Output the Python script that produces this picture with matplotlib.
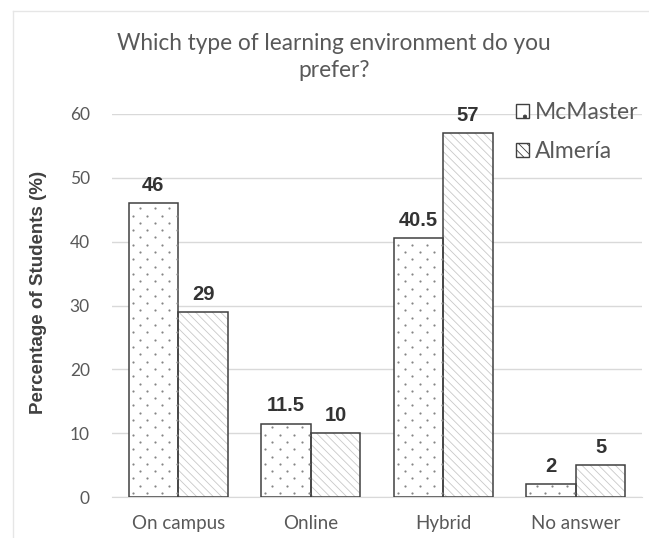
import matplotlib
matplotlib.use("Agg")
import matplotlib.pyplot as plt
import numpy as np
from matplotlib.patches import Patch

categories = ["On campus", "Online", "Hybrid", "No answer"]
mcmaster = [46, 11.5, 40.5, 2]
almeria = [29, 10, 57, 5]
labels_mc = ["46", "11.5", "40.5", "2"]
labels_al = ["29", "10", "57", "5"]
series_names = ["McMaster", "Almería"]
yticks = [0, 10, 20, 30, 40, 50, 60]

FONT = ["Lato", "DejaVu Sans"]
BOLD = ["Liberation Sans", "DejaVu Sans"]
EDGE = "#404040"
TXT = "#595959"
STRIPE = "\\\\\\\\"

plt.rcParams['hatch.linewidth'] = 0.6

fig = plt.figure(figsize=(6.49, 5.38), dpi=100)
ax = fig.add_axes([112/649, 1-497/538, (642-112)/649, (497-114)/538])

x = np.arange(len(categories))
w = 0.375

ax.set_xlim(-0.5, len(categories) - 0.5)
ax.set_ylim(0, 60)

bars_mc = ax.bar(x - w/2, mcmaster, w, facecolor="white", edgecolor=EDGE, linewidth=1.1, zorder=3)
ax.bar(x + w/2, almeria, w, color="white", edgecolor="#c8c8c8", hatch=STRIPE, linewidth=0, zorder=2)
ax.bar(x + w/2, almeria, w, fill=False, edgecolor=EDGE, linewidth=1.1, zorder=3)

# dotted texture for McMaster bars (staggered lattice, clipped to each bar)
fig.canvas.draw()
dx, dy = 14.7, 7.3
for bar in bars_mc:
    bb = bar.get_window_extent()
    pts = []
    row = 0
    yy = bb.y0 + 4
    while yy < bb.y1:
        off = 4 if row % 2 == 0 else 4 + dx / 2
        xx = bb.x0 + off
        while xx < bb.x1:
            pts.append((xx, yy))
            xx += dx
        yy += dy
        row += 1
    if pts:
        dpts = ax.transData.inverted().transform(np.array(pts))
        sc = ax.scatter(dpts[:, 0], dpts[:, 1], s=2.5, color="#858585", linewidths=0, zorder=4)
        sc.set_clip_path(bar)

for xi, v, s in zip(x - w/2, mcmaster, labels_mc):
    ax.annotate(s, (xi, v), xytext=(0, 6), textcoords="offset points", ha="center", va="bottom",
                fontsize=14.5, fontweight="bold", color="#333333", family=BOLD)
for xi, v, s in zip(x + w/2, almeria, labels_al):
    ax.annotate(s, (xi, v), xytext=(0, 6), textcoords="offset points", ha="center", va="bottom",
                fontsize=14.5, fontweight="bold", color="#333333", family=BOLD)

ax.set_yticks(yticks)
ax.yaxis.grid(True, color="#d9d9d9", linewidth=1)
ax.set_axisbelow(True)
for sp in ["left", "right", "top"]:
    ax.spines[sp].set_visible(False)
ax.spines["bottom"].set_color("#d9d9d9")
ax.tick_params(axis="both", length=0, colors=TXT)
ax.tick_params(axis="y", pad=16, labelsize=12.5)
ax.tick_params(axis="x", pad=13, labelsize=13.5)
ax.set_xticks(x)
ax.set_xticklabels(categories, family=FONT)
for t in ax.get_yticklabels():
    t.set_family(FONT)

ax.set_ylabel("Percentage of Students (%)", fontsize=13.5, color="#404040", fontweight="bold",
              family=["Liberation Sans Narrow", "Liberation Sans", "DejaVu Sans"])
ax.yaxis.set_label_coords(-0.123, 0.535)

fig.text(334/649, 1-57/538, "Which type of learning environment do you\nprefer?", ha="center", va="center",
         fontsize=16.3, color=TXT, family=FONT, linespacing=1.4)

handles = [Patch(facecolor="white", edgecolor="#858585", hatch="."),
           Patch(facecolor="white", edgecolor="#c8c8c8", hatch=STRIPE)]
leg = ax.legend(handles, series_names, loc="upper right", bbox_to_anchor=(1.01, 1.055), frameon=False,
                prop={"family": FONT, "size": 16.5}, labelcolor=TXT, handlelength=0.55, handleheight=0.55,
                handletextpad=0.25, labelspacing=0.8, borderaxespad=0)
for h in leg.legend_handles:
    h.set_edgecolor(EDGE)
    h.set_linewidth(1)

fig.add_artist(plt.Line2D([13/649, 1], [1-11/538, 1-11/538], transform=fig.transFigure, color="#e6e6e6", lw=1))
fig.add_artist(plt.Line2D([13/649, 13/649], [0, 1-11/538], transform=fig.transFigure, color="#e6e6e6", lw=1))

fig.savefig("out.png", dpi=100)
